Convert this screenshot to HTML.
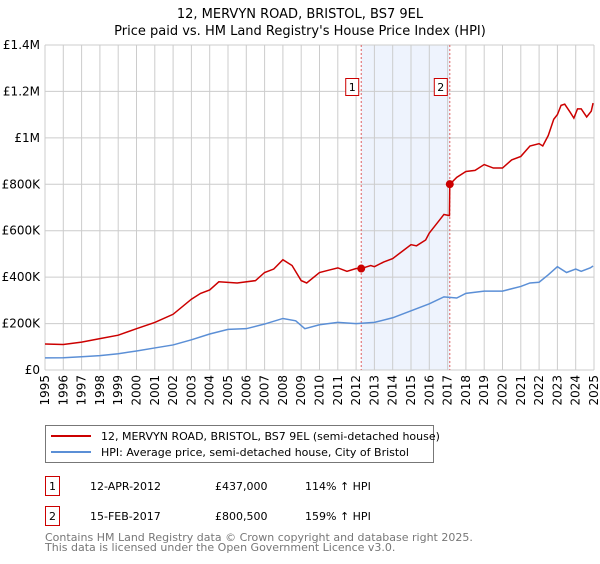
<!DOCTYPE html>
<html><head><meta charset="utf-8"><style>
body{margin:0;background:#fff;font-family:"DejaVu Sans","Liberation Sans",sans-serif;}
svg text{font-family:"DejaVu Sans","Liberation Sans",sans-serif;}
</style></head><body>
<svg id="c" width="600" height="560" xmlns="http://www.w3.org/2000/svg">
<text x="300" y="18" text-anchor="middle" font-size="13">12, MERVYN ROAD, BRISTOL, BS7 9EL</text>
<text x="300" y="35" text-anchor="middle" font-size="13">Price paid vs. HM Land Registry's House Price Index (HPI)</text>
<g id="plot"></g>
<g>
<rect x="45.5" y="425.5" width="388" height="37" fill="#fff" stroke="#777"/>
<line x1="51" y1="436" x2="91" y2="436" stroke="#cc0000" stroke-width="2"/>
<text x="101" y="440" font-size="11">12, MERVYN ROAD, BRISTOL, BS7 9EL (semi-detached house)</text>
<line x1="51" y1="452" x2="91" y2="452" stroke="#5b8fd6" stroke-width="2"/>
<text x="101" y="456" font-size="11">HPI: Average price, semi-detached house, City of Bristol</text>
</g>
<g font-size="11">
<rect x="45.5" y="476.5" width="14" height="19" fill="#fff" stroke="#cc0000"/><text x="52.5" y="490" text-anchor="middle">1</text>
<text x="90" y="490">12-APR-2012</text><text x="215" y="490">£437,000</text><text x="305" y="490">114% ↑ HPI</text>
<rect x="45.5" y="506.5" width="14" height="19" fill="#fff" stroke="#cc0000"/><text x="52.5" y="520" text-anchor="middle">2</text>
<text x="90" y="520">15-FEB-2017</text><text x="215" y="520">£800,500</text><text x="305" y="520">159% ↑ HPI</text>
</g>
<text x="45" y="541" font-size="11" fill="#777">Contains HM Land Registry data © Crown copyright and database right 2025.</text>
<text x="45" y="551" font-size="11" fill="#777">This data is licensed under the Open Government Licence v3.0.</text>
</svg>
<script>
const redT=[1995,1996,1997,1998,1999,2000,2001,2002,2003,2003.5,2004,2004.5,2005.5,2006.5,2007,2007.5,2008,2008.5,2009,2009.3,2010,2010.5,2011,2011.5,2012,2012.28,2012.8,2013,2013.5,2014,2014.5,2015,2015.3,2015.8,2016,2016.5,2016.8,2017.1,2017.12,2017.5,2018,2018.5,2019,2019.5,2020,2020.5,2021,2021.5,2022,2022.2,2022.5,2022.8,2023,2023.2,2023.4,2023.7,2023.9,2024.1,2024.3,2024.6,2024.85,2024.95];
const redV=[112,110,120,135,150,178,205,240,305,330,345,380,375,385,420,435,475,450,385,375,420,430,440,425,437,437,450,445,465,480,510,540,535,560,590,640,670,665,800,830,855,860,885,870,870,905,920,965,975,965,1010,1080,1100,1140,1145,1110,1085,1125,1125,1090,1115,1150];
const hpiT=[1995,1996,1997,1998,1999,2000,2001,2002,2003,2004,2005,2006,2007,2008,2008.7,2009.2,2010,2011,2012,2013,2014,2015,2016,2016.8,2017.5,2018,2019,2020,2020.5,2021,2021.5,2022,2022.5,2023,2023.5,2024,2024.3,2024.8,2024.95];
const hpiV=[52,53,57,62,70,82,95,108,130,155,175,178,198,222,212,178,195,205,200,205,225,255,285,315,310,330,340,340,350,360,375,378,410,445,420,435,425,440,448];
const saleT=[2012.28,2017.12];
const saleV=[437,800.5];
const yTicks=[0,200,400,600,800,1000,1200,1400];
const yLabels=["£0","£200K","£400K","£600K","£800K","£1M","£1.2M","£1.4M"];
const years=[];for(let y=1995;y<=2025;y++)years.push(y);
const L=45,R=594,T=45,B=370;
const X=t=>L+(t-1995)/30*(R-L);
const Y=v=>B-v/1400*(B-T);
const ns="http://www.w3.org/2000/svg";
const g=document.getElementById('plot');
function mk(tag,attrs,parent){const e=document.createElementNS(ns,tag);for(const k in attrs)e.setAttribute(k,attrs[k]);(parent||g).appendChild(e);return e;}
const sh=mk('rect',{x:X(saleT[0]),y:T,width:X(saleT[1])-X(saleT[0]),height:B-T,fill:'#eef3fd'});


years.forEach(y=>{
 const l=mk('line',{x1:X(y),x2:X(y),y1:T,y2:B,stroke:'#ccc'});
 
 
 const t=mk('text',{x:0,y:0,'font-size':12,'text-anchor':'end',transform:`translate(${X(y)+4},${B+5}) rotate(-90)`});
 t.textContent=y;
 
 
});
yTicks.forEach((v,i)=>{
 const l=mk('line',{x1:L,x2:R,y1:Y(v),y2:Y(v),stroke:'#ccc'});
 
 
 const t=mk('text',{x:L-5,y:Y(v)+4,'font-size':12,'text-anchor':'end'});
 t.textContent=yLabels[i];
 
 
});
saleT.forEach((s,i)=>{
 const l=mk('line',{x1:X(s),x2:X(s),y1:T,y2:B,stroke:'#e06060','stroke-dasharray':'2,2'});
 
 
 const r=mk('rect',{x:X(s)-15.5,y:78.5,width:13,height:17,fill:'#fff',stroke:'#cc0000'});
 
 
 const t=mk('text',{x:X(s)-9,y:91,'font-size':11,'text-anchor':'middle'});
 t.textContent=i+1;
 
 
});
const hp=mk('polyline',{points:hpiT.map((t,i)=>X(t)+','+Y(hpiV[i])).join(' '),fill:'none',stroke:'#5b8fd6','stroke-width':1.5});


const rp=mk('polyline',{points:redT.map((t,i)=>X(t)+','+Y(redV[i])).join(' '),fill:'none',stroke:'#cc0000','stroke-width':1.5});


saleT.forEach((s,i)=>{
 const c=mk('circle',{cx:X(s),cy:Y(saleV[i]),r:4,fill:'#cc0000'});
 
 
});
</script>
</body></html>
